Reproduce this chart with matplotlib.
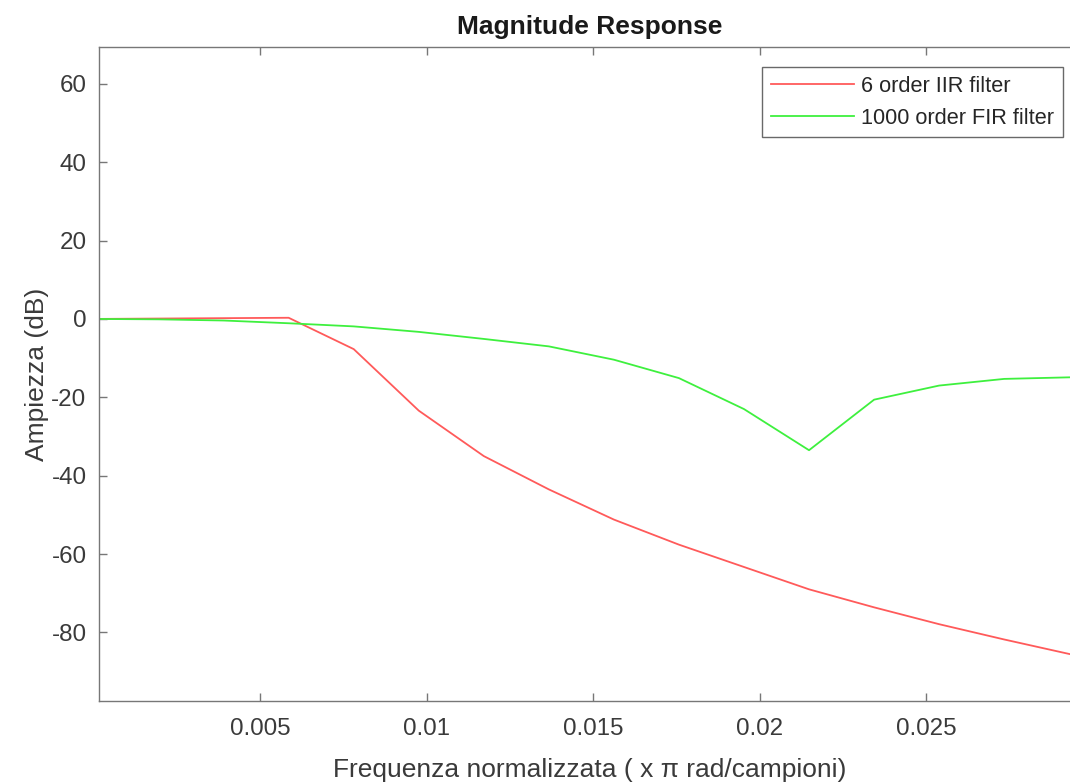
import matplotlib
matplotlib.use("Agg")
import matplotlib.pyplot as plt

plt.rcParams['font.family'] = ['Liberation Sans', 'DejaVu Sans']
plt.rcParams['axes.unicode_minus'] = False

# Frequency samples (x pi rad/sample), k/512
freq = [0.0, 0.001953, 0.003906, 0.005859, 0.007813, 0.009766, 0.011719,
        0.013672, 0.015625, 0.017578, 0.019531, 0.021484, 0.023438,
        0.025391, 0.027344, 0.029297]
iir_db = [0.0, 0.1, 0.2, 0.3, -7.7, -23.4, -35.0, -43.5, -51.2, -57.6,
          -63.3, -69.0, -73.6, -77.9, -81.8, -85.5]
fir_db = [0.0, -0.1, -0.4, -1.1, -1.9, -3.3, -5.1, -7.0, -10.4, -15.1,
          -23.0, -33.5, -20.6, -17.0, -15.3, -14.9]
labels = ["6 order IIR filter", "1000 order FIR filter"]
xticks = [0.005, 0.01, 0.015, 0.02, 0.025]
xticklabels = ["0.005", "0.01", "0.015", "0.02", "0.025"]
yticks = [-80, -60, -40, -20, 0, 20, 40, 60]

W, H = 1070, 782
fig = plt.figure(figsize=(W / 100, H / 100), dpi=100)
ax = fig.add_axes([99 / W, 1 - 701 / H, 982 / W, 654 / H])

ax.plot(freq, iir_db, color='#ff5a5a', lw=1.3, label=labels[0])
ax.plot(freq, fir_db, color='#3ef03e', lw=1.3, label=labels[1])

ax.set_xlim(0.000165, 0.02965)
ax.set_ylim(-97.5, 69.4)
ax.set_xticks(xticks)
ax.set_xticklabels(xticklabels)
ax.set_yticks(yticks)

axcol = '#777777'
for s in ax.spines.values():
    s.set_color(axcol)
    s.set_linewidth(1.0)
ax.tick_params(direction='in', length=6, width=1.0, color=axcol,
               labelsize=17.4, labelcolor='#3a3a3a',
               top=True, right=True)
ax.tick_params(axis='x', pad=12)
ax.tick_params(axis='y', pad=9)

ax.set_xlabel("Frequenza normalizzata ( x \u03c0 rad/campioni)", fontsize=19,
              color='#3a3a3a', labelpad=13)
ax.set_ylabel("Ampiezza (dB)", fontsize=19, color='#3a3a3a', labelpad=2)
fig.text(590 / W, 1 - 27 / H, "Magnitude Response", fontsize=19,
         fontweight='bold', ha='center', va='center', color='#1a1a1a')

leg = ax.legend(loc='upper right', bbox_to_anchor=(1063 / W, 1 - 67 / H),
                bbox_transform=fig.transFigure, borderaxespad=0,
                fontsize=15.7, fancybox=False, frameon=True,
                handlelength=3.8, handletextpad=0.35, borderpad=0.4,
                labelspacing=0.5)
leg.get_frame().set_edgecolor('#444444')
leg.get_frame().set_linewidth(1.0)
for t in leg.get_texts():
    t.set_color('#262626')

fig.savefig("out.png", dpi=100)
